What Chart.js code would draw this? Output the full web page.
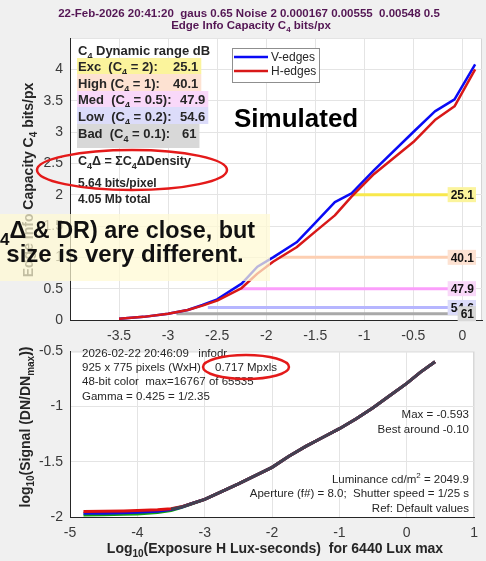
<!DOCTYPE html>
<html>
<head>
<meta charset="utf-8">
<script src="https://cdn.jsdelivr.net/npm/chart.js@4.4.1/dist/chart.umd.min.js"></script>
<style>
  html, body { margin: 0; padding: 0; background: #f0f0f0; }
  #wrap { position: relative; width: 486px; height: 561px; overflow: hidden; }
  canvas { position: absolute; left: 0; }
</style>
</head>
<body>
<div id="wrap">
  <canvas id="capChart" width="486" height="345" style="top:0"></canvas>
  <canvas id="sigChart" width="486" height="225" style="top:336px"></canvas>
</div>
<script>
const FONT = 'Arial, "Liberation Sans", Helvetica, sans-serif';
const INK = '#262626';

// edge information capacity C4 vs log10 exposure, both edge directions
const capExposure = [-3.5, -3.25, -3.0, -2.8, -2.65, -2.5, -2.25, -2.09, -1.93, -1.69, -1.5, -1.3, -1.13, -0.9, -0.5, -0.28, -0.08, 0.13];
const capVEdges = [0.02, 0.05, 0.10, 0.16, 0.24, 0.33, 0.58, 0.85, 1.0, 1.24, 1.55, 1.88, 2.02, 2.39, 3.0, 3.33, 3.52, 4.08];
const capHEdges = [0.02, 0.05, 0.10, 0.16, 0.23, 0.31, 0.51, 0.74, 0.93, 1.16, 1.41, 1.67, 1.97, 2.33, 2.84, 3.19, 3.41, 4.0];

// dynamic range per quality level (C4 threshold -> dB)
const drNames = ['Exc', 'High', 'Med', 'Low', 'Bad'];
const drC4 = [2, 1, 0.5, 0.2, 0.1];
const drDB = [25.1, 40.1, 47.9, 54.6, 61];
const drTopExposure = 0.135;

// signal (log10 DN/DNmax) vs log10 exposure per channel
const sigExposure = [-4.8, -4.5, -4.2, -4.0, -3.7, -3.5, -3.35, -3.2, -3.0, -2.75, -2.5, -2.25, -2.0, -1.75, -1.5, -1.25, -1.0, -0.75, -0.5, -0.25, 0.0, 0.2, 0.42];
const sigRed   = [-1.950, -1.948, -1.945, -1.942, -1.935, -1.925, -1.908, -1.88, -1.84, -1.77, -1.70, -1.625, -1.55, -1.45, -1.36, -1.28, -1.20, -1.11, -1.01, -0.90, -0.79, -0.69, -0.593];
const sigGreen = [-1.982, -1.980, -1.976, -1.972, -1.960, -1.942, -1.915, -1.882, -1.84, -1.77, -1.70, -1.625, -1.55, -1.45, -1.36, -1.28, -1.20, -1.11, -1.01, -0.90, -0.79, -0.69, -0.593];
const sigBlue  = [-1.967, -1.965, -1.961, -1.958, -1.948, -1.933, -1.912, -1.88, -1.84, -1.77, -1.70, -1.625, -1.55, -1.45, -1.36, -1.28, -1.20, -1.11, -1.01, -0.90, -0.79, -0.69, -0.593];
const sigLum   = [null, null, null, null, null, -1.93, -1.91, -1.88, -1.84, -1.77, -1.70, -1.625, -1.55, -1.45, -1.36, -1.28, -1.20, -1.11, -1.01, -0.90, -0.79, -0.69, -0.593];

const drLineColor = ['#f8e84c', '#fdcfb2', '#fb9efb', '#b6b6ff', '#a9a9a9'];
const drBoxColor = ['#fbf49c', '#fde2d2', '#f9d8f9', '#dcdcfa', '#d8d8d8'];

// "C_{4}" -> subscript, "m^{2}" -> superscript
function parse(s) {
  const out = [];
  const re = /([_^])\{([^}]*)\}/g;
  let last = 0, m;
  while ((m = re.exec(s))) {
    if (m.index > last) out.push([s.slice(last, m.index), '']);
    out.push([m[2], m[1] === '_' ? 'b' : 'p']);
    last = re.lastIndex;
  }
  if (last < s.length) out.push([s.slice(last), '']);
  return out;
}

function rich(ctx, str, x, y, o = {}) {
  const size = o.size || 12, weight = o.weight || 'normal';
  const parts = parse(str).map(([t, k]) => {
    const s = k ? Math.round(size * 0.72) : size;
    ctx.font = `${weight} ${s}px ${FONT}`;
    return { t, k, s, w: ctx.measureText(t).width };
  });
  const total = parts.reduce((a, p) => a + p.w, 0);
  let cx = o.align === 'center' ? x - total / 2 : o.align === 'right' ? x - total : x;
  ctx.fillStyle = o.color || INK;
  ctx.textAlign = 'left';
  ctx.textBaseline = 'alphabetic';
  for (const p of parts) {
    ctx.font = `${weight} ${p.s}px ${FONT}`;
    const dy = p.k === 'b' ? size * 0.3 : p.k === 'p' ? -size * 0.4 : 0;
    ctx.fillText(p.t, cx, y + dy);
    cx += p.w;
  }
  return total;
}

const fmt = v => String(Number(v.toFixed(2)));

const plotBg = {
  id: 'plotBg',
  beforeDraw(chart) {
    const { ctx, chartArea: a } = chart;
    ctx.save();
    ctx.fillStyle = '#fff';
    ctx.fillRect(a.left, a.top, a.right - a.left, a.bottom - a.top);
    ctx.strokeStyle = '#d4d4d4';
    ctx.lineWidth = 1;
    ctx.beginPath();
    ctx.moveTo(a.left, a.top + 0.5);
    ctx.lineTo(a.right - 0.5, a.top + 0.5);
    ctx.lineTo(a.right - 0.5, a.bottom);
    ctx.stroke();
    ctx.restore();
  }
};

function axes(xr, yr, xw, yh, hideX, hideY) {
  const tickFont = { family: FONT, size: 14 };
  return {
    x: {
      type: 'linear', min: xr[0], max: xr[1],
      afterFit: s => { s.height = yh; },
      grid: { color: '#e4e4e4', drawTicks: false },
      border: { color: INK },
      ticks: {
        stepSize: xr[2], includeBounds: false, autoSkip: false, maxRotation: 0,
        padding: 8, color: '#3a3a3a', font: tickFont,
        callback: v => (hideX.includes(v) ? '' : fmt(v))
      }
    },
    y: {
      type: 'linear', min: yr[0], max: yr[1],
      afterFit: s => { s.width = xw; },
      grid: { color: '#e4e4e4', drawTicks: false },
      border: { color: INK },
      ticks: {
        stepSize: yr[2], includeBounds: false, padding: 7, color: '#3a3a3a', font: tickFont,
        callback: v => (hideY.includes(v) ? '' : fmt(v))
      }
    }
  };
}

const pts = (xs, ys) => xs.map((x, i) => ({ x, y: ys[i] }));

// ---- upper chart: edge info capacity ----
const capLabels = {
  id: 'capLabels',
  afterDraw(chart) {
    const { ctx, scales: { y } } = chart;
    ctx.save();

    rich(ctx, '22-Feb-2026 20:41:20  gaus 0.65 Noise 2 0.000167 0.00555  0.00548 0.5', 249, 17,
      { size: 11.5, weight: 'bold', align: 'center', color: '#541654' });
    rich(ctx, 'Edge Info Capacity C_{4} bits/px', 251, 29,
      { size: 11.5, weight: 'bold', align: 'center', color: '#541654' });

    ctx.save();
    ctx.translate(33, 180);
    ctx.rotate(-Math.PI / 2);
    rich(ctx, 'Edge Info Capacity C_{4} bits/px', 0, 0, { size: 14, weight: 'bold', align: 'center' });
    ctx.restore();

    // dynamic range table
    rich(ctx, 'C_{4} Dynamic range dB', 78, 55, { size: 13, weight: 'bold' });
    const rowBase = [71, 88, 104, 121, 138];
    const valX = [173, 173, 180, 180, 182];
    drNames.forEach((n, i) => {
      ctx.font = `bold 13px ${FONT}`;
      const vw = ctx.measureText(String(drDB[i])).width;
      const bottom = i === drNames.length - 1 ? rowBase[i] + 10 : rowBase[i] + 3;
      const top = i === 0 ? rowBase[i] - 13 : rowBase[i - 1] + 3;
      ctx.fillStyle = drBoxColor[i];
      ctx.fillRect(77, top, valX[i] + vw + 3 - 77, bottom - top);
      rich(ctx, `${n.padEnd(4)} (C_{4} = ${drC4[i]}):`, 78, rowBase[i], { size: 13, weight: 'bold' });
      rich(ctx, String(drDB[i]), valX[i], rowBase[i], { size: 13, weight: 'bold' });
    });

    rich(ctx, 'C_{4}Δ = ΣC_{4}ΔDensity', 78, 165, { size: 12.5, weight: 'bold' });
    rich(ctx, '5.64 bits/pixel', 78, 187, { size: 12, weight: 'bold' });
    rich(ctx, '4.05 Mb total', 78, 203, { size: 12, weight: 'bold' });

    // legend
    ctx.fillStyle = '#fff';
    ctx.fillRect(232, 48, 87, 34);
    ctx.strokeStyle = '#8f8f8f';
    ctx.lineWidth = 1;
    ctx.strokeRect(232.5, 48.5, 87, 34);
    [['V-edges', '#0a0af5', 57], ['H-edges', '#d81818', 71]].forEach(([t, c, ly]) => {
      ctx.strokeStyle = c;
      ctx.lineWidth = 2.5;
      ctx.beginPath();
      ctx.moveTo(234, ly);
      ctx.lineTo(268, ly);
      ctx.stroke();
      rich(ctx, t, 271, ly + 4, { size: 12 });
    });

    rich(ctx, 'Simulated', 234, 127, { size: 26, weight: 'bold', color: '#000' });

    // dB tags at the right end of each level line
    drDB.forEach((d, i) => {
      const py = y.getPixelForValue(drC4[i]);
      ctx.font = `bold 12px ${FONT}`;
      const w = ctx.measureText(String(d)).width;
      ctx.fillStyle = drBoxColor[i];
      ctx.fillRect(476 - w - 5, py - 7.5, w + 5, 15);
      rich(ctx, String(d), 474, py + 4.5, { size: 12, weight: 'bold', align: 'right', color: '#111' });
    });

    // translucent note box
    ctx.fillStyle = 'rgba(255, 250, 210, 0.72)';
    ctx.fillRect(0, 214, 270, 67);
    rich(ctx, '(C_{4}Δ & DR) are close, but', 255, 238, { size: 23.4, weight: 'bold', align: 'right', color: '#111' });
    rich(ctx, 'size is very different.', 125, 262, { size: 24, weight: 'bold', align: 'center', color: '#111' });

    ctx.strokeStyle = '#e41a1a';
    ctx.lineWidth = 2.5;
    ctx.beginPath();
    ctx.ellipse(132, 170, 95, 20, 0, 0, Math.PI * 2);
    ctx.stroke();
    ctx.restore();
  }
};

const drSets = drC4.map((c, i) => ({
  data: [{ x: drTopExposure - drDB[i] / 20, y: c }, { x: drTopExposure, y: c }],
  borderColor: drLineColor[i], borderWidth: 3, order: 2
}));

new Chart(document.getElementById('capChart'), {
  type: 'scatter',
  data: {
    datasets: [
      { label: 'H-edges', data: pts(capExposure, capHEdges), borderColor: '#d81818', borderWidth: 2.5, order: 0 },
      { label: 'V-edges', data: pts(capExposure, capVEdges), borderColor: '#0a0af5', borderWidth: 2.5, order: 1 },
      ...drSets
    ].map(d => ({ ...d, showLine: true, pointRadius: 0, tension: 0, borderJoinStyle: 'round' }))
  },
  options: {
    responsive: false, animation: false, events: [],
    layout: { padding: { top: 38, right: 4, left: 0, bottom: 0 } },
    plugins: { legend: { display: false }, tooltip: { enabled: false } },
    scales: axes([-4, 0.2, 0.5], [0, 4.5, 0.5], 70, 25, [-4], [4.5])
  },
  plugins: [plotBg, capLabels]
});

// ---- lower chart: signal vs exposure ----
const SIG_TOP = 336;
const sigLabels = {
  id: 'sigLabels',
  afterDraw(chart) {
    const { ctx } = chart;
    ctx.save();
    ctx.translate(0, -SIG_TOP);

    const s = { size: 11.5 };
    rich(ctx, '2026-02-22 20:46:09   infodr', 82, 357, s);
    rich(ctx, '925 x 775 pixels (WxH)', 82, 371, s);
    rich(ctx, '0.717 Mpxls', 215, 371, s);
    rich(ctx, '48-bit color  max=16767 of 65535', 82, 385, s);
    rich(ctx, 'Gamma = 0.425 = 1/2.35', 82, 400, s);

    const r = { size: 11.5, align: 'right' };
    rich(ctx, 'Max = ' + sigLum[sigLum.length - 1], 469, 418, r);
    rich(ctx, 'Best around -0.10', 469, 433, r);
    rich(ctx, 'Luminance cd/m^{2} = 2049.9', 469, 483, r);
    rich(ctx, 'Aperture (f#) = 8.0;  Shutter speed = 1/25 s', 469, 497, r);
    rich(ctx, 'Ref: Default values', 469, 512, r);

    rich(ctx, 'Log_{10}(Exposure H Lux-seconds)  for 6440 Lux max', 275, 553, { size: 14, weight: 'bold', align: 'center' });
    ctx.save();
    ctx.translate(30, 427);
    ctx.rotate(-Math.PI / 2);
    rich(ctx, 'log_{10}(Signal (DN/DN_{max}))', 0, 0, { size: 14, weight: 'bold', align: 'center' });
    ctx.restore();

    ctx.strokeStyle = '#e41a1a';
    ctx.lineWidth = 2.5;
    ctx.beginPath();
    ctx.ellipse(246, 367, 43, 12, 0, 0, Math.PI * 2);
    ctx.stroke();
    ctx.restore();
  }
};

new Chart(document.getElementById('sigChart'), {
  type: 'scatter',
  data: {
    datasets: [
      { label: 'Y', data: pts(sigExposure, sigLum), borderColor: '#414152', borderWidth: 3, order: 0 },
      { label: 'R', data: pts(sigExposure, sigRed), borderColor: '#e01010', borderWidth: 3, order: 1 },
      { label: 'B', data: pts(sigExposure, sigBlue), borderColor: '#1010e0', borderWidth: 3, order: 2 },
      { label: 'G', data: pts(sigExposure, sigGreen), borderColor: '#10a010', borderWidth: 3, order: 3 }
    ].map(d => ({ ...d, showLine: true, pointRadius: 0, tension: 0, spanGaps: false }))
  },
  options: {
    responsive: false, animation: false, events: [],
    layout: { padding: { top: 12, right: 4, left: 0, bottom: 0 } },
    plugins: { legend: { display: false }, tooltip: { enabled: false } },
    scales: axes([-5, 1, 1], [-2, -0.5, 0.5], 70, 44, [], [])
  },
  plugins: [plotBg, sigLabels]
});
</script>
</body>
</html>
